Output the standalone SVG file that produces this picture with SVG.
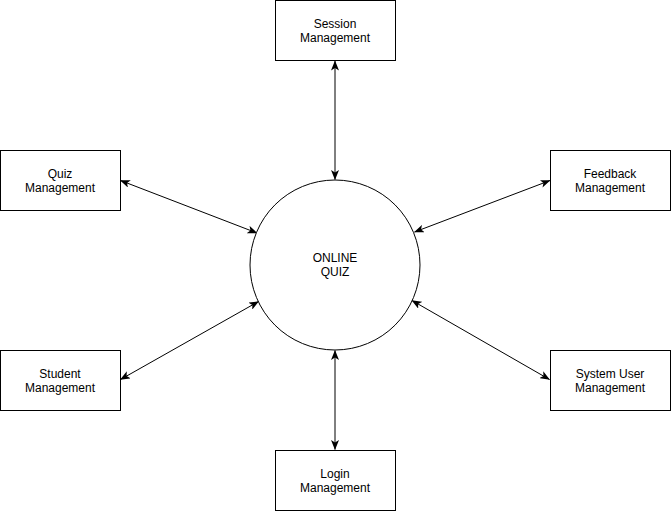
<svg xmlns="http://www.w3.org/2000/svg" width="671" height="511" viewBox="0 0 671 511">
<style>
.box{fill:#fff;stroke:#000;stroke-width:1}
.lbl{font-family:"Liberation Sans",Arial,Helvetica,sans-serif;font-size:12px;fill:#000;text-anchor:middle}
.edge{stroke:#000;stroke-width:1;fill:none;marker-start:url(#a);marker-end:url(#a)}
</style>
<defs>
<marker id="a" viewBox="0 0 10 8" refX="9.5" refY="4" markerWidth="10" markerHeight="8" markerUnits="userSpaceOnUse" orient="auto-start-reverse">
<path d="M0,0 L10,4 L0,8 L2.5,4 Z" fill="#000"/>
</marker>
</defs>
<rect width="671" height="511" fill="#fff"/>
<g id="connectors">
<line class="edge" x1="335" y1="61" x2="335" y2="179.5"/>
<line class="edge" x1="335" y1="350.5" x2="335" y2="449.5"/>
<line class="edge" x1="120.5" y1="180.5" x2="257" y2="233"/>
<line class="edge" x1="550" y1="180.5" x2="414.5" y2="232"/>
<line class="edge" x1="120.5" y1="379.5" x2="258.5" y2="301.5"/>
<line class="edge" x1="549.5" y1="379.5" x2="412" y2="300.5"/>
</g>
<g id="online-quiz">
<circle class="box" cx="335" cy="265" r="85"/>
<text class="lbl" x="335" y="262">ONLINE</text>
<text class="lbl" x="335" y="276">QUIZ</text>
</g>
<g id="session">
<rect class="box" x="275.5" y="0.5" width="120" height="60"/>
<text class="lbl" x="335" y="28">Session</text>
<text class="lbl" x="335" y="42">Management</text>
</g>
<g id="quiz">
<rect class="box" x="0.5" y="150.5" width="120" height="60"/>
<text class="lbl" x="60" y="178">Quiz</text>
<text class="lbl" x="60" y="192">Management</text>
</g>
<g id="feedback">
<rect class="box" x="550.5" y="150.5" width="120" height="60"/>
<text class="lbl" x="610" y="178">Feedback</text>
<text class="lbl" x="610" y="192">Management</text>
</g>
<g id="student">
<rect class="box" x="0.5" y="350.5" width="120" height="60"/>
<text class="lbl" x="60" y="378">Student</text>
<text class="lbl" x="60" y="392">Management</text>
</g>
<g id="system-user">
<rect class="box" x="550.5" y="350.5" width="120" height="60"/>
<text class="lbl" x="610" y="378">System User</text>
<text class="lbl" x="610" y="392">Management</text>
</g>
<g id="login">
<rect class="box" x="275.5" y="450.5" width="120" height="60"/>
<text class="lbl" x="335" y="478">Login</text>
<text class="lbl" x="335" y="492">Management</text>
</g>
</svg>
